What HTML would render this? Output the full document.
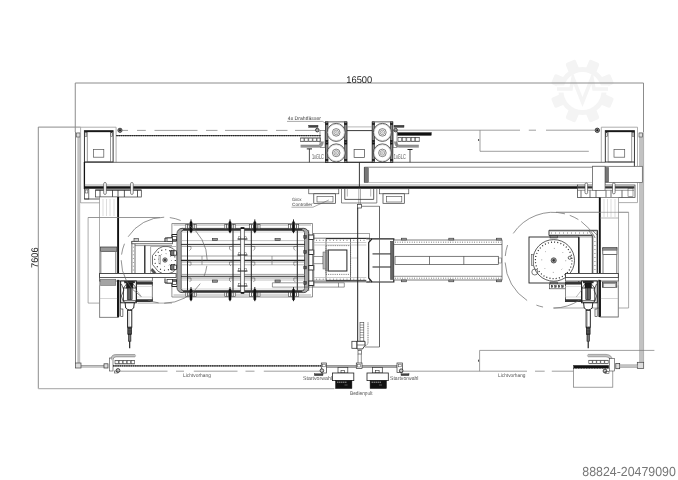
<!DOCTYPE html>
<html><head><meta charset="utf-8"><title>Layout 16500 x 7606</title>
<style>
html,body{margin:0;padding:0;background:#fff;}
body{width:678px;height:480px;overflow:hidden;font-family:"Liberation Sans",sans-serif;}
svg{display:block;transform:translateZ(0);will-change:transform;}
svg text{font-family:"Liberation Sans",sans-serif;text-rendering:geometricPrecision;}
</style></head><body>
<svg width="678" height="480" viewBox="0 0 678 480">
<rect x="0" y="0" width="678" height="480" fill="#fff"/>
<g><rect x="577.0" y="59" width="11" height="12" rx="2" fill="#f4f4f4" transform="rotate(22.5 582.5 91)"/><rect x="577.0" y="59" width="11" height="12" rx="2" fill="#f4f4f4" transform="rotate(67.5 582.5 91)"/><rect x="577.0" y="59" width="11" height="12" rx="2" fill="#f4f4f4" transform="rotate(112.5 582.5 91)"/><rect x="577.0" y="59" width="11" height="12" rx="2" fill="#f4f4f4" transform="rotate(157.5 582.5 91)"/><rect x="577.0" y="59" width="11" height="12" rx="2" fill="#f4f4f4" transform="rotate(202.5 582.5 91)"/><rect x="577.0" y="59" width="11" height="12" rx="2" fill="#f4f4f4" transform="rotate(247.5 582.5 91)"/><rect x="577.0" y="59" width="11" height="12" rx="2" fill="#f4f4f4" transform="rotate(292.5 582.5 91)"/><rect x="577.0" y="59" width="11" height="12" rx="2" fill="#f4f4f4" transform="rotate(337.5 582.5 91)"/><circle cx="582.5" cy="91" r="21.5" fill="none" stroke="#f4f4f4" stroke-width="5"/><path d="M556.5,89 L566.5,89 M598.5,89 L608.5,89" fill="none" stroke="#fff" stroke-width="7"/><path d="M557.0,89 L571.0,89 L573.0,78 L582.5,102 L592.0,78 L594.0,89 L608.0,89" fill="none" stroke="#f4f4f4" stroke-width="3.6" stroke-linejoin="miter"/></g>
<line x1="75.25" y1="83" x2="643.5" y2="83" stroke="#8c8c8c" stroke-width="1" />
<line x1="75.25" y1="83" x2="75.25" y2="132" stroke="#8c8c8c" stroke-width="1" />
<line x1="643.5" y1="83" x2="643.5" y2="132" stroke="#8c8c8c" stroke-width="1" />
<line x1="38.3" y1="127" x2="38.3" y2="388.7" stroke="#8c8c8c" stroke-width="1" />
<line x1="38.3" y1="127.1" x2="80.6" y2="127.1" stroke="#8c8c8c" stroke-width="1" />
<line x1="38.3" y1="388.7" x2="334.4" y2="388.7" stroke="#b5b5b5" stroke-width="1.2" />
<text x="346.3" y="82.9" font-size="9.7" fill="#222" textLength="25.9" lengthAdjust="spacingAndGlyphs">16500</text>
<text transform="translate(38.1,267.9) rotate(-90)" font-size="9.6" fill="#222" textLength="20.4" lengthAdjust="spacingAndGlyphs">7606</text>
<text x="582.3" y="475.9" font-size="13.2" fill="#777" textLength="93.6" lengthAdjust="spacingAndGlyphs">88824-20479090</text>
<line x1="75.5" y1="132" x2="75.5" y2="363" stroke="#777" stroke-width="0.9" />
<rect x="77.3" y="132.5" width="2.90" height="230.50" stroke="none" stroke-width="0" fill="#c2c2c2" />
<rect x="76.6" y="133" width="3.40" height="4.00" stroke="#444" stroke-width="0.6" fill="#ddd" />
<rect x="75.6" y="363" width="5.40" height="5.00" stroke="#444" stroke-width="0.7" fill="#ddd" />
<rect x="639" y="132.5" width="4.70" height="230.00" stroke="none" stroke-width="0" fill="#c2c2c2" />
<line x1="643.6" y1="132" x2="643.6" y2="362.5" stroke="#999" stroke-width="0.6" />
<rect x="639" y="133" width="3.60" height="4.00" stroke="#444" stroke-width="0.6" fill="#ddd" />
<rect x="637.3" y="362.3" width="6.40" height="6.20" stroke="#444" stroke-width="0.7" fill="#ddd" />
<path d="M80.6,203 L80.6,127.2 L116.1,127.2 L116.1,162.3" stroke="#999" stroke-width="0.8" fill="none" />
<rect x="84.4" y="130.6" width="28.70" height="31.40" stroke="#222" stroke-width="0.9" fill="none" />
<rect x="87.2" y="131.6" width="23.30" height="30.40" stroke="#555" stroke-width="0.6" fill="none" />
<line x1="84.4" y1="131.6" x2="113.1" y2="131.6" stroke="#111" stroke-width="1.1" />
<rect x="85.0" y="132.5" width="1.80" height="4.00" stroke="#333" stroke-width="0.5" fill="none" />
<rect x="110.89999999999999" y="132.5" width="1.70" height="4.00" stroke="#333" stroke-width="0.5" fill="none" />
<rect x="93.4" y="149.4" width="10.40" height="7.80" stroke="#555" stroke-width="0.7" fill="none" />
<path d="M601.3,162.3 L601.3,127.2 L637.5,127.2 L637.5,166" stroke="#999" stroke-width="0.8" fill="none" />
<rect x="605.3" y="130.6" width="29.10" height="31.40" stroke="#222" stroke-width="0.9" fill="none" />
<rect x="608.0999999999999" y="131.6" width="23.70" height="30.40" stroke="#555" stroke-width="0.6" fill="none" />
<line x1="605.3" y1="131.6" x2="634.4" y2="131.6" stroke="#111" stroke-width="1.1" />
<rect x="605.9" y="132.5" width="1.80" height="4.00" stroke="#333" stroke-width="0.5" fill="none" />
<rect x="632.1999999999999" y="132.5" width="1.70" height="4.00" stroke="#333" stroke-width="0.5" fill="none" />
<rect x="614" y="149.4" width="10.70" height="7.80" stroke="#555" stroke-width="0.7" fill="none" />
<circle cx="120" cy="130.3" r="2.1" stroke="#222" stroke-width="0.8" fill="#999" />
<circle cx="120" cy="130.3" r="0.8" stroke="#111" stroke-width="0.5" fill="#111" />
<circle cx="597.3" cy="130.3" r="2.2" stroke="#222" stroke-width="0.8" fill="#999" />
<circle cx="597.3" cy="130.3" r="0.8" stroke="#111" stroke-width="0.5" fill="#111" />
<line x1="122.2" y1="130.4" x2="128" y2="130.4" stroke="#777" stroke-width="0.7" />
<line x1="137" y1="130.4" x2="145.8" y2="130.4" stroke="#777" stroke-width="0.7" />
<line x1="154.5" y1="130.4" x2="197.5" y2="130.4" stroke="#777" stroke-width="0.7" />
<line x1="206" y1="130.4" x2="217.5" y2="130.4" stroke="#777" stroke-width="0.7" />
<line x1="225" y1="130.4" x2="267.5" y2="130.4" stroke="#777" stroke-width="0.7" />
<line x1="276" y1="130.4" x2="287.5" y2="130.4" stroke="#777" stroke-width="0.7" />
<line x1="295" y1="130.4" x2="315.5" y2="130.4" stroke="#777" stroke-width="0.7" />
<line x1="116.3" y1="135.6" x2="321" y2="135.6" stroke="#555" stroke-width="0.9" />
<line x1="116.3" y1="135.6" x2="321" y2="135.6" stroke="#222" stroke-width="1.1" stroke-dasharray="1.5 0.7"/>
<line x1="84.4" y1="162.3" x2="605.3" y2="162.3" stroke="#444" stroke-width="0.8" />
<line x1="84.4" y1="162" x2="84.4" y2="189" stroke="#111" stroke-width="1.3" />
<line x1="84.4" y1="185" x2="578" y2="185" stroke="#666" stroke-width="0.6" />
<line x1="84.4" y1="187.5" x2="578" y2="187.5" stroke="#111" stroke-width="2.4" />
<rect x="325.6" y="121.9" width="21.30" height="40.40" stroke="#222" stroke-width="0.7" fill="#fff" />
<rect x="325.6" y="121.9" width="2.40" height="40.40" stroke="#222" stroke-width="0.6" fill="#888" />
<rect x="325.6" y="123.3" width="2.40" height="1.40" stroke="#111" stroke-width="0.3" fill="#111" />
<rect x="325.6" y="140.3" width="2.40" height="1.40" stroke="#111" stroke-width="0.3" fill="#111" />
<rect x="325.6" y="142.8" width="2.40" height="1.40" stroke="#111" stroke-width="0.3" fill="#111" />
<rect x="325.6" y="159.3" width="2.40" height="1.40" stroke="#111" stroke-width="0.3" fill="#111" />
<rect x="344.5" y="121.9" width="2.40" height="40.40" stroke="#222" stroke-width="0.6" fill="#888" />
<rect x="344.5" y="123.3" width="2.40" height="1.40" stroke="#111" stroke-width="0.3" fill="#111" />
<rect x="344.5" y="140.3" width="2.40" height="1.40" stroke="#111" stroke-width="0.3" fill="#111" />
<rect x="344.5" y="142.8" width="2.40" height="1.40" stroke="#111" stroke-width="0.3" fill="#111" />
<rect x="344.5" y="159.3" width="2.40" height="1.40" stroke="#111" stroke-width="0.3" fill="#111" />
<circle cx="336.2" cy="132.4" r="9.0" stroke="#333" stroke-width="0.8" fill="#fff" />
<circle cx="336.2" cy="132.4" r="8.2" stroke="#999" stroke-width="0.4" fill="none" />
<circle cx="336.2" cy="132.4" r="3.8" stroke="#333" stroke-width="0.6" fill="none" />
<circle cx="336.2" cy="132.4" r="2.3" stroke="#444" stroke-width="0.5" fill="none" />
<circle cx="336.2" cy="132.4" r="0.9" stroke="#555" stroke-width="0.4" fill="none" />
<circle cx="336.2" cy="152.9" r="9.0" stroke="#333" stroke-width="0.8" fill="#fff" />
<circle cx="336.2" cy="152.9" r="8.2" stroke="#999" stroke-width="0.4" fill="none" />
<circle cx="336.2" cy="152.9" r="3.8" stroke="#333" stroke-width="0.6" fill="none" />
<circle cx="336.2" cy="152.9" r="2.3" stroke="#444" stroke-width="0.5" fill="none" />
<circle cx="336.2" cy="152.9" r="0.9" stroke="#555" stroke-width="0.4" fill="none" />
<rect x="372.2" y="121.9" width="20.60" height="40.40" stroke="#222" stroke-width="0.7" fill="#fff" />
<rect x="372.2" y="121.9" width="2.40" height="40.40" stroke="#222" stroke-width="0.6" fill="#888" />
<rect x="372.2" y="123.3" width="2.40" height="1.40" stroke="#111" stroke-width="0.3" fill="#111" />
<rect x="372.2" y="140.3" width="2.40" height="1.40" stroke="#111" stroke-width="0.3" fill="#111" />
<rect x="372.2" y="142.8" width="2.40" height="1.40" stroke="#111" stroke-width="0.3" fill="#111" />
<rect x="372.2" y="159.3" width="2.40" height="1.40" stroke="#111" stroke-width="0.3" fill="#111" />
<rect x="390.40000000000003" y="121.9" width="2.40" height="40.40" stroke="#222" stroke-width="0.6" fill="#888" />
<rect x="390.40000000000003" y="123.3" width="2.40" height="1.40" stroke="#111" stroke-width="0.3" fill="#111" />
<rect x="390.40000000000003" y="140.3" width="2.40" height="1.40" stroke="#111" stroke-width="0.3" fill="#111" />
<rect x="390.40000000000003" y="142.8" width="2.40" height="1.40" stroke="#111" stroke-width="0.3" fill="#111" />
<rect x="390.40000000000003" y="159.3" width="2.40" height="1.40" stroke="#111" stroke-width="0.3" fill="#111" />
<circle cx="382.4" cy="132.4" r="9.0" stroke="#333" stroke-width="0.8" fill="#fff" />
<circle cx="382.4" cy="132.4" r="8.2" stroke="#999" stroke-width="0.4" fill="none" />
<circle cx="382.4" cy="132.4" r="3.8" stroke="#333" stroke-width="0.6" fill="none" />
<circle cx="382.4" cy="132.4" r="2.3" stroke="#444" stroke-width="0.5" fill="none" />
<circle cx="382.4" cy="132.4" r="0.9" stroke="#555" stroke-width="0.4" fill="none" />
<circle cx="382.4" cy="152.9" r="9.0" stroke="#333" stroke-width="0.8" fill="#fff" />
<circle cx="382.4" cy="152.9" r="8.2" stroke="#999" stroke-width="0.4" fill="none" />
<circle cx="382.4" cy="152.9" r="3.8" stroke="#333" stroke-width="0.6" fill="none" />
<circle cx="382.4" cy="152.9" r="2.3" stroke="#444" stroke-width="0.5" fill="none" />
<circle cx="382.4" cy="152.9" r="0.9" stroke="#555" stroke-width="0.4" fill="none" />
<line x1="346.9" y1="126.9" x2="372.2" y2="126.9" stroke="#888" stroke-width="0.6" />
<line x1="346.9" y1="130.6" x2="372.2" y2="130.6" stroke="#222" stroke-width="0.9" />
<rect x="354.1" y="149.4" width="10.50" height="8.10" stroke="#444" stroke-width="0.7" fill="none" />
<line x1="346.9" y1="162.3" x2="372.2" y2="162.3" stroke="#222" stroke-width="0.9" />
<text x="287.8" y="120.4" font-size="5.2" fill="#444" textLength="33.2" lengthAdjust="spacingAndGlyphs">4x Drahtfässer</text>
<path d="M287,121.4 L322.5,121.4 L325.6,123.2" stroke="#555" stroke-width="0.5" fill="none" />
<rect x="308.8" y="125.3" width="9.20" height="2.00" stroke="#222" stroke-width="0.4" fill="#444" />
<circle cx="317.3" cy="130.1" r="1.8" stroke="#222" stroke-width="0.8" fill="#aaa" />
<rect x="320" y="130.6" width="5.00" height="16.90" stroke="#555" stroke-width="0.6" fill="none" />
<rect x="300.6" y="138" width="3.40" height="3.30" stroke="#444" stroke-width="0.6" fill="none" />
<rect x="304.70000000000005" y="138" width="3.40" height="3.30" stroke="#444" stroke-width="0.6" fill="none" />
<rect x="308.8" y="138" width="3.40" height="3.30" stroke="#444" stroke-width="0.6" fill="none" />
<rect x="312.90000000000003" y="138" width="3.40" height="3.30" stroke="#444" stroke-width="0.6" fill="none" />
<rect x="317.0" y="138" width="3.40" height="3.30" stroke="#444" stroke-width="0.6" fill="none" />
<line x1="300.6" y1="138" x2="321" y2="138" stroke="#444" stroke-width="0.5" />
<line x1="300.6" y1="141.3" x2="321" y2="141.3" stroke="#444" stroke-width="0.5" />
<path d="M300.6,146.1 L318.5,146.1 Q322,146 322.3,141.5" stroke="#999" stroke-width="2.3" fill="none" />
<path d="M300.6,145 L318.5,145 Q321,145 321.2,141.5 M300.6,147.3 L319,147.3 Q323.3,147 323.4,141.5" stroke="#555" stroke-width="0.4" fill="none" />
<line x1="306.8" y1="148.9" x2="312" y2="148.9" stroke="#222" stroke-width="1.0" />
<line x1="309.4" y1="148.9" x2="309.4" y2="162.3" stroke="#222" stroke-width="0.8" />
<text x="311.9" y="158.7" font-size="7.2" fill="#555" textLength="12" lengthAdjust="spacingAndGlyphs">1xGLC</text>
<rect x="394" y="125.3" width="10.00" height="2.00" stroke="#222" stroke-width="0.4" fill="#444" />
<circle cx="395.6" cy="130.1" r="1.8" stroke="#222" stroke-width="0.8" fill="#aaa" />
<rect x="397.5" y="132.6" width="33.80" height="2.80" stroke="#111" stroke-width="0.4" fill="#111" />
<rect x="398.0" y="137.6" width="3.60" height="3.70" stroke="#444" stroke-width="0.6" fill="none" />
<rect x="402.4" y="137.6" width="3.60" height="3.70" stroke="#444" stroke-width="0.6" fill="none" />
<rect x="406.8" y="137.6" width="3.60" height="3.70" stroke="#444" stroke-width="0.6" fill="none" />
<rect x="411.2" y="137.6" width="3.60" height="3.70" stroke="#444" stroke-width="0.6" fill="none" />
<rect x="415.6" y="137.6" width="3.60" height="3.70" stroke="#444" stroke-width="0.6" fill="none" />
<line x1="398" y1="137.6" x2="420" y2="137.6" stroke="#444" stroke-width="0.5" />
<line x1="398" y1="141.3" x2="420" y2="141.3" stroke="#444" stroke-width="0.5" />
<path d="M418.8,146.1 L399,146.1 Q395.8,146 395.6,141.5" stroke="#999" stroke-width="2.3" fill="none" />
<path d="M418.8,145 L399,145 Q396.8,145 396.6,141.5 M418.8,147.3 L399,147.3 Q394.6,147 394.5,141.5" stroke="#555" stroke-width="0.4" fill="none" />
<rect x="393" y="130.6" width="4.00" height="16.90" stroke="#555" stroke-width="0.6" fill="none" />
<line x1="407.5" y1="149.5" x2="412.5" y2="149.5" stroke="#222" stroke-width="1.0" />
<line x1="410" y1="149.5" x2="410" y2="162.3" stroke="#222" stroke-width="0.8" />
<text x="393.8" y="158.7" font-size="7.2" fill="#555" textLength="12" lengthAdjust="spacingAndGlyphs">1xGLC</text>
<line x1="397.4" y1="130.2" x2="520" y2="130.2" stroke="#777" stroke-width="0.7" />
<line x1="528.8" y1="130.2" x2="536" y2="130.2" stroke="#777" stroke-width="0.7" />
<line x1="546" y1="130.2" x2="595" y2="130.2" stroke="#777" stroke-width="0.7" />
<path d="M480,130.2 L480,151.3 L588.8,151.3" stroke="#777" stroke-width="0.7" fill="none" />
<line x1="478.6" y1="139" x2="478.6" y2="141" stroke="#222" stroke-width="0.8" />
<line x1="364.4" y1="167.2" x2="592.5" y2="167.2" stroke="#555" stroke-width="0.7" />
<line x1="364.4" y1="167.2" x2="364.4" y2="182.5" stroke="#333" stroke-width="0.8" />
<line x1="364.4" y1="182.5" x2="592.5" y2="182.5" stroke="#aaa" stroke-width="0.7" />
<rect x="364.6" y="167.8" width="3.80" height="14.50" stroke="#333" stroke-width="0.4" fill="#777" />
<line x1="359.4" y1="162.3" x2="359.4" y2="188" stroke="#222" stroke-width="0.9" />
<line x1="358.8" y1="188.8" x2="358.8" y2="204.4" stroke="#777" stroke-width="0.6" />
<line x1="360.5" y1="188.8" x2="360.5" y2="204.4" stroke="#777" stroke-width="0.6" />
<rect x="308.8" y="188.8" width="30.00" height="5.00" stroke="#333" stroke-width="0.6" fill="#fff" />
<rect x="313.8" y="193.8" width="21.70" height="9.50" stroke="#333" stroke-width="0.7" fill="#fff" />
<rect x="317" y="196.3" width="16.00" height="5.70" stroke="#444" stroke-width="0.6" fill="none" />
<rect x="379.5" y="188.8" width="29.30" height="5.00" stroke="#333" stroke-width="0.6" fill="#fff" />
<rect x="383" y="193.8" width="21.30" height="9.50" stroke="#333" stroke-width="0.7" fill="#fff" />
<rect x="386.3" y="196.3" width="15.50" height="5.70" stroke="#444" stroke-width="0.6" fill="none" />
<path d="M341.5,188.8 L341.5,203 L376.8,203 L376.8,188.8" stroke="#555" stroke-width="0.7" fill="none" />
<path d="M344.8,188.8 L344.8,199.4 L373.7,199.4 L373.7,188.8" stroke="#333" stroke-width="0.8" fill="none" />
<path d="M347.3,188.8 L347.3,196.5 M370.7,188.8 L370.7,196.5" stroke="#666" stroke-width="0.5" fill="none" />
<rect x="357.5" y="204.4" width="4.00" height="3.60" stroke="#333" stroke-width="0.7" fill="#fff" />
<path d="M361.5,206.3 L379.5,206.3 L379.5,347 L365,347" stroke="#555" stroke-width="0.7" fill="none" />
<text x="292" y="201.2" font-size="4.6" fill="#444" textLength="9.5" lengthAdjust="spacingAndGlyphs">Girox</text>
<text x="292" y="206.3" font-size="4.6" fill="#444" textLength="20.5" lengthAdjust="spacingAndGlyphs">Controller</text>
<path d="M291.5,207.2 L313,207.2 L328.8,200" stroke="#555" stroke-width="0.5" fill="none" />
<path d="M160,217.5 L88.1,217.5 L88.1,303.1 L99.6,303.1 M137.5,303.1 L172,303.1" stroke="#888" stroke-width="0.7" fill="none" />
<path d="M556,212.3 L628.6,212.3 L628.6,308 L553,308" stroke="#888" stroke-width="0.7" fill="none" />
<line x1="80.6" y1="202.8" x2="99.6" y2="202.8" stroke="#999" stroke-width="0.8" />
<path d="M618.8,202.6 L637.5,202.6 L637.5,182.5" stroke="#999" stroke-width="0.8" fill="none" />
<rect x="84.4" y="189" width="4.40" height="10.00" stroke="#333" stroke-width="0.7" fill="#fff" />
<rect x="85.3" y="190" width="2.50" height="3.00" stroke="#444" stroke-width="0.5" fill="none" />
<line x1="84.4" y1="199" x2="100" y2="199" stroke="#333" stroke-width="0.8" />
<rect x="95.6" y="190" width="45.70" height="7.00" stroke="#333" stroke-width="0.7" fill="#fff" />
<line x1="95.6" y1="190.2" x2="141.3" y2="190.2" stroke="#555" stroke-width="1.2" />
<line x1="100" y1="190" x2="100" y2="197" stroke="#333" stroke-width="0.8" />
<line x1="112.5" y1="190" x2="112.5" y2="197" stroke="#333" stroke-width="0.8" />
<line x1="118" y1="190" x2="118" y2="197" stroke="#333" stroke-width="0.8" />
<line x1="124.4" y1="190" x2="124.4" y2="197" stroke="#333" stroke-width="0.8" />
<line x1="137.5" y1="190" x2="137.5" y2="197" stroke="#333" stroke-width="0.8" />
<rect x="103.7" y="182.5" width="2.60" height="11.90" stroke="#333" stroke-width="0.6" fill="#fff" rx="1.2"/>
<rect x="130.6" y="182.5" width="2.60" height="11.90" stroke="#333" stroke-width="0.6" fill="#fff" rx="1.2"/>
<rect x="592.5" y="166.3" width="49.80" height="16.20" stroke="#555" stroke-width="0.7" fill="#fff" />
<rect x="592.5" y="166.3" width="12.50" height="24.30" stroke="#555" stroke-width="0.7" fill="#fff" />
<rect x="605.2" y="167.5" width="3.40" height="14.50" stroke="#333" stroke-width="0.4" fill="#777" />
<rect x="577.5" y="185" width="57.50" height="12.50" stroke="#333" stroke-width="0.7" fill="#fff" />
<line x1="577.5" y1="187.3" x2="634.4" y2="187.3" stroke="#333" stroke-width="2.2" />
<line x1="577.5" y1="190.3" x2="634" y2="190.3" stroke="#555" stroke-width="0.6" />
<rect x="592.5" y="166.3" width="12.50" height="24.30" stroke="#666" stroke-width="0.7" fill="#fff" />
<line x1="581" y1="190.3" x2="581" y2="197.5" stroke="#333" stroke-width="0.7" />
<line x1="590" y1="190.3" x2="590" y2="197.5" stroke="#333" stroke-width="0.7" />
<line x1="596" y1="190.3" x2="596" y2="197.5" stroke="#333" stroke-width="0.7" />
<line x1="606" y1="190.3" x2="606" y2="197.5" stroke="#333" stroke-width="0.7" />
<line x1="611" y1="190.3" x2="611" y2="197.5" stroke="#333" stroke-width="0.7" />
<line x1="622" y1="190.3" x2="622" y2="197.5" stroke="#333" stroke-width="0.7" />
<rect x="628" y="188.5" width="5.00" height="8.00" stroke="#444" stroke-width="0.5" fill="none" />
<line x1="634.4" y1="162" x2="634.4" y2="166.3" stroke="#222" stroke-width="0.9" />
<rect x="585.0" y="183" width="2.60" height="10.80" stroke="#333" stroke-width="0.6" fill="#fff" rx="1.2"/>
<rect x="612.5" y="183" width="2.60" height="10.80" stroke="#333" stroke-width="0.6" fill="#fff" rx="1.2"/>
<rect x="99.6" y="197" width="18.50" height="120.30" stroke="#777" stroke-width="0.6" fill="#fff" />
<line x1="118.1" y1="197" x2="118.1" y2="317.3" stroke="#111" stroke-width="1.9" />
<line x1="99.6" y1="217.5" x2="118" y2="217.5" stroke="#888" stroke-width="0.6" />
<line x1="103" y1="199" x2="103" y2="216" stroke="#bbb" stroke-width="0.5" />
<line x1="106.5" y1="199" x2="106.5" y2="216" stroke="#bbb" stroke-width="0.5" />
<line x1="110" y1="199" x2="110" y2="216" stroke="#bbb" stroke-width="0.5" />
<line x1="114" y1="199" x2="114" y2="216" stroke="#bbb" stroke-width="0.5" />
<rect x="100.6" y="247" width="16.40" height="4.30" stroke="#333" stroke-width="0.7" fill="#999" />
<line x1="100.8" y1="251.3" x2="100.8" y2="273.5" stroke="#777" stroke-width="1.0" />
<line x1="115.8" y1="251.3" x2="115.8" y2="273.5" stroke="#777" stroke-width="1.0" />
<rect x="599.8" y="197.5" width="18.60" height="119.50" stroke="#777" stroke-width="0.6" fill="#fff" />
<line x1="599.8" y1="197.5" x2="599.8" y2="317" stroke="#111" stroke-width="1.9" />
<line x1="600" y1="218" x2="618.4" y2="218" stroke="#888" stroke-width="0.6" />
<line x1="604" y1="199" x2="604" y2="217" stroke="#bbb" stroke-width="0.5" />
<line x1="607.5" y1="199" x2="607.5" y2="217" stroke="#bbb" stroke-width="0.5" />
<line x1="611" y1="199" x2="611" y2="217" stroke="#bbb" stroke-width="0.5" />
<line x1="615" y1="199" x2="615" y2="217" stroke="#bbb" stroke-width="0.5" />
<rect x="602.8" y="247.5" width="14.20" height="6.90" stroke="#333" stroke-width="0.7" fill="#fff" />
<rect x="602.8" y="248.3" width="14.20" height="2.00" stroke="#333" stroke-width="0.3" fill="#888" />
<line x1="603" y1="254.4" x2="603" y2="273.5" stroke="#777" stroke-width="1.0" />
<line x1="616.8" y1="254.4" x2="616.8" y2="273.5" stroke="#777" stroke-width="1.0" />
<path d="M171.9,236 L171.9,223.5 L312.5,223.5 L312.5,297 L171.9,297 L171.9,285" stroke="#666" stroke-width="0.7" fill="none" />
<path d="M173.5,225 L311,225 M173.5,295 L311,295" stroke="#777" stroke-width="0.6" fill="none" />
<path d="M183,229.5 Q179.1,229.5 179.1,233.5 L179.1,287.5 Q179.1,291.4 183,291.4" fill="none" stroke="#aaa" stroke-width="3.4"/>
<path d="M302.5,229.5 Q306.6,229.5 306.6,233.5 L306.6,287.5 Q306.6,291.4 302.5,291.4" fill="none" stroke="#aaa" stroke-width="3.4"/>
<rect x="177" y="228.4" width="131.7" height="64.2" rx="5" fill="none" stroke="#333" stroke-width="0.8"/>
<rect x="181.2" y="230.4" width="123.3" height="60.2" rx="2" fill="none" stroke="#333" stroke-width="0.8"/>
<line x1="183" y1="229.4" x2="302.5" y2="229.4" stroke="#333" stroke-width="1.6" />
<line x1="183" y1="291.5" x2="302.5" y2="291.5" stroke="#333" stroke-width="1.6" />
<line x1="181" y1="232" x2="305" y2="232" stroke="#aaa" stroke-width="0.5" />
<line x1="181" y1="289" x2="305" y2="289" stroke="#aaa" stroke-width="0.5" />
<line x1="181" y1="240.6" x2="305" y2="240.6" stroke="#999" stroke-width="0.6" />
<line x1="181" y1="244.4" x2="305" y2="244.4" stroke="#333" stroke-width="1.0" />
<line x1="181" y1="246.3" x2="305" y2="246.3" stroke="#777" stroke-width="0.7" />
<line x1="181" y1="256" x2="305" y2="256" stroke="#777" stroke-width="0.7" />
<line x1="181" y1="260.3" x2="305" y2="260.3" stroke="#2a2a2a" stroke-width="1.15" />
<line x1="181" y1="262" x2="305" y2="262" stroke="#777" stroke-width="0.7" />
<line x1="181" y1="264.8" x2="305" y2="264.8" stroke="#888" stroke-width="0.6" />
<line x1="181" y1="274.4" x2="305" y2="274.4" stroke="#777" stroke-width="0.7" />
<line x1="181" y1="276.3" x2="305" y2="276.3" stroke="#333" stroke-width="1.0" />
<line x1="181" y1="278" x2="305" y2="278" stroke="#777" stroke-width="0.7" />
<line x1="181" y1="280" x2="305" y2="280" stroke="#999" stroke-width="0.6" />
<line x1="187.5" y1="230.4" x2="187.5" y2="290.6" stroke="#222" stroke-width="1.0" />
<path d="M188.0,246.5 l3,0 l0,2.5 l-1.5,1.5" stroke="#444" stroke-width="0.5" fill="none" />
<path d="M188.0,262 l3,0 l0,2.5 l-1.5,1.5" stroke="#444" stroke-width="0.5" fill="none" />
<path d="M188.0,278 l3,0 l0,2.5 l-1.5,1.5" stroke="#444" stroke-width="0.5" fill="none" />
<line x1="233" y1="230.4" x2="233" y2="290.6" stroke="#222" stroke-width="1.0" />
<path d="M232.5,246.5 l-3,0 l0,2.5 l1.5,1.5" stroke="#444" stroke-width="0.5" fill="none" />
<path d="M232.5,262 l-3,0 l0,2.5 l1.5,1.5" stroke="#444" stroke-width="0.5" fill="none" />
<path d="M232.5,278 l-3,0 l0,2.5 l1.5,1.5" stroke="#444" stroke-width="0.5" fill="none" />
<line x1="251.3" y1="230.4" x2="251.3" y2="290.6" stroke="#222" stroke-width="1.0" />
<path d="M251.8,246.5 l3,0 l0,2.5 l-1.5,1.5" stroke="#444" stroke-width="0.5" fill="none" />
<path d="M251.8,262 l3,0 l0,2.5 l-1.5,1.5" stroke="#444" stroke-width="0.5" fill="none" />
<path d="M251.8,278 l3,0 l0,2.5 l-1.5,1.5" stroke="#444" stroke-width="0.5" fill="none" />
<line x1="297.3" y1="230.4" x2="297.3" y2="290.6" stroke="#222" stroke-width="1.0" />
<path d="M296.8,246.5 l-3,0 l0,2.5 l1.5,1.5" stroke="#444" stroke-width="0.5" fill="none" />
<path d="M296.8,262 l-3,0 l0,2.5 l1.5,1.5" stroke="#444" stroke-width="0.5" fill="none" />
<path d="M296.8,278 l-3,0 l0,2.5 l1.5,1.5" stroke="#444" stroke-width="0.5" fill="none" />
<rect x="212.3" y="238.5" width="5.20" height="2.10" stroke="#333" stroke-width="0.6" fill="#999" />
<rect x="212.3" y="280" width="5.20" height="2.20" stroke="#333" stroke-width="0.6" fill="#999" />
<rect x="275" y="238.5" width="5.20" height="2.10" stroke="#333" stroke-width="0.6" fill="#999" />
<rect x="275" y="280" width="5.20" height="2.20" stroke="#333" stroke-width="0.6" fill="#999" />
<line x1="202" y1="256" x2="202" y2="264.8" stroke="#666" stroke-width="0.6" />
<line x1="272" y1="256" x2="272" y2="264.8" stroke="#666" stroke-width="0.6" />
<rect x="240.6" y="228.2" width="3.80" height="64.50" stroke="#333" stroke-width="0.7" fill="#fff" rx="1.5"/>
<rect x="240.9" y="227.3" width="3.20" height="1.50" stroke="#111" stroke-width="0.4" fill="#111" />
<rect x="240.9" y="292.2" width="3.20" height="1.40" stroke="#111" stroke-width="0.4" fill="#111" />
<line x1="237.5" y1="239" x2="247.5" y2="239" stroke="#222" stroke-width="1.0" />
<rect x="238.5" y="236.8" width="2.10" height="2.70" stroke="#444" stroke-width="0.4" fill="none" />
<rect x="244.4" y="236.8" width="2.10" height="2.70" stroke="#444" stroke-width="0.4" fill="none" />
<line x1="237.5" y1="255" x2="247.5" y2="255" stroke="#222" stroke-width="1.0" />
<rect x="238.5" y="252.8" width="2.10" height="2.70" stroke="#444" stroke-width="0.4" fill="none" />
<rect x="244.4" y="252.8" width="2.10" height="2.70" stroke="#444" stroke-width="0.4" fill="none" />
<line x1="237.5" y1="271" x2="247.5" y2="271" stroke="#222" stroke-width="1.0" />
<rect x="238.5" y="268.8" width="2.10" height="2.70" stroke="#444" stroke-width="0.4" fill="none" />
<rect x="244.4" y="268.8" width="2.10" height="2.70" stroke="#444" stroke-width="0.4" fill="none" />
<line x1="237.5" y1="286" x2="247.5" y2="286" stroke="#222" stroke-width="1.0" />
<rect x="238.5" y="283.8" width="2.10" height="2.70" stroke="#444" stroke-width="0.4" fill="none" />
<rect x="244.4" y="283.8" width="2.10" height="2.70" stroke="#444" stroke-width="0.4" fill="none" />
<rect x="185.8" y="224.3" width="2.00" height="4.40" stroke="#333" stroke-width="0.6" fill="#fff" />
<rect x="187.8" y="224.8" width="2.00" height="3.40" stroke="#333" stroke-width="0.6" fill="#fff" />
<rect x="192.2" y="224.8" width="2.00" height="3.40" stroke="#333" stroke-width="0.6" fill="#fff" />
<rect x="194.2" y="224.3" width="2.00" height="4.40" stroke="#333" stroke-width="0.6" fill="#fff" />
<rect x="189.9" y="221.4" width="2.20" height="10.80" stroke="#111" stroke-width="0.4" fill="#111" rx="1"/>
<line x1="191" y1="219.4" x2="191" y2="233.2" stroke="#111" stroke-width="0.9" />
<rect x="185.8" y="292.3" width="2.00" height="4.40" stroke="#333" stroke-width="0.6" fill="#fff" />
<rect x="187.8" y="292.8" width="2.00" height="3.40" stroke="#333" stroke-width="0.6" fill="#fff" />
<rect x="192.2" y="292.8" width="2.00" height="3.40" stroke="#333" stroke-width="0.6" fill="#fff" />
<rect x="194.2" y="292.3" width="2.00" height="4.40" stroke="#333" stroke-width="0.6" fill="#fff" />
<rect x="189.9" y="289" width="2.20" height="11.20" stroke="#111" stroke-width="0.4" fill="#111" rx="1"/>
<line x1="191" y1="287" x2="191" y2="301.2" stroke="#111" stroke-width="0.9" />
<rect x="224.8" y="224.3" width="2.00" height="4.40" stroke="#333" stroke-width="0.6" fill="#fff" />
<rect x="226.8" y="224.8" width="2.00" height="3.40" stroke="#333" stroke-width="0.6" fill="#fff" />
<rect x="231.2" y="224.8" width="2.00" height="3.40" stroke="#333" stroke-width="0.6" fill="#fff" />
<rect x="233.2" y="224.3" width="2.00" height="4.40" stroke="#333" stroke-width="0.6" fill="#fff" />
<rect x="228.9" y="221.4" width="2.20" height="10.80" stroke="#111" stroke-width="0.4" fill="#111" rx="1"/>
<line x1="230" y1="219.4" x2="230" y2="233.2" stroke="#111" stroke-width="0.9" />
<rect x="224.8" y="292.3" width="2.00" height="4.40" stroke="#333" stroke-width="0.6" fill="#fff" />
<rect x="226.8" y="292.8" width="2.00" height="3.40" stroke="#333" stroke-width="0.6" fill="#fff" />
<rect x="231.2" y="292.8" width="2.00" height="3.40" stroke="#333" stroke-width="0.6" fill="#fff" />
<rect x="233.2" y="292.3" width="2.00" height="4.40" stroke="#333" stroke-width="0.6" fill="#fff" />
<rect x="228.9" y="289" width="2.20" height="11.20" stroke="#111" stroke-width="0.4" fill="#111" rx="1"/>
<line x1="230" y1="287" x2="230" y2="301.2" stroke="#111" stroke-width="0.9" />
<rect x="249.60000000000002" y="224.3" width="2.00" height="4.40" stroke="#333" stroke-width="0.6" fill="#fff" />
<rect x="251.60000000000002" y="224.8" width="2.00" height="3.40" stroke="#333" stroke-width="0.6" fill="#fff" />
<rect x="256.0" y="224.8" width="2.00" height="3.40" stroke="#333" stroke-width="0.6" fill="#fff" />
<rect x="258.0" y="224.3" width="2.00" height="4.40" stroke="#333" stroke-width="0.6" fill="#fff" />
<rect x="253.70000000000002" y="221.4" width="2.20" height="10.80" stroke="#111" stroke-width="0.4" fill="#111" rx="1"/>
<line x1="254.8" y1="219.4" x2="254.8" y2="233.2" stroke="#111" stroke-width="0.9" />
<rect x="249.60000000000002" y="292.3" width="2.00" height="4.40" stroke="#333" stroke-width="0.6" fill="#fff" />
<rect x="251.60000000000002" y="292.8" width="2.00" height="3.40" stroke="#333" stroke-width="0.6" fill="#fff" />
<rect x="256.0" y="292.8" width="2.00" height="3.40" stroke="#333" stroke-width="0.6" fill="#fff" />
<rect x="258.0" y="292.3" width="2.00" height="4.40" stroke="#333" stroke-width="0.6" fill="#fff" />
<rect x="253.70000000000002" y="289" width="2.20" height="11.20" stroke="#111" stroke-width="0.4" fill="#111" rx="1"/>
<line x1="254.8" y1="287" x2="254.8" y2="301.2" stroke="#111" stroke-width="0.9" />
<rect x="288.3" y="224.3" width="2.00" height="4.40" stroke="#333" stroke-width="0.6" fill="#fff" />
<rect x="290.3" y="224.8" width="2.00" height="3.40" stroke="#333" stroke-width="0.6" fill="#fff" />
<rect x="294.7" y="224.8" width="2.00" height="3.40" stroke="#333" stroke-width="0.6" fill="#fff" />
<rect x="296.7" y="224.3" width="2.00" height="4.40" stroke="#333" stroke-width="0.6" fill="#fff" />
<rect x="292.4" y="221.4" width="2.20" height="10.80" stroke="#111" stroke-width="0.4" fill="#111" rx="1"/>
<line x1="293.5" y1="219.4" x2="293.5" y2="233.2" stroke="#111" stroke-width="0.9" />
<rect x="288.3" y="292.3" width="2.00" height="4.40" stroke="#333" stroke-width="0.6" fill="#fff" />
<rect x="290.3" y="292.8" width="2.00" height="3.40" stroke="#333" stroke-width="0.6" fill="#fff" />
<rect x="294.7" y="292.8" width="2.00" height="3.40" stroke="#333" stroke-width="0.6" fill="#fff" />
<rect x="296.7" y="292.3" width="2.00" height="4.40" stroke="#333" stroke-width="0.6" fill="#fff" />
<rect x="292.4" y="289" width="2.20" height="11.20" stroke="#111" stroke-width="0.4" fill="#111" rx="1"/>
<line x1="293.5" y1="287" x2="293.5" y2="301.2" stroke="#111" stroke-width="0.9" />
<line x1="308.7" y1="230" x2="308.7" y2="291" stroke="#333" stroke-width="0.6" />
<rect x="308.8" y="235" width="5.00" height="4.50" stroke="#222" stroke-width="0.9" fill="#fff" />
<rect x="303.8" y="235.7" width="2.50" height="2.70" stroke="#222" stroke-width="0.5" fill="#555" />
<rect x="308.8" y="250" width="5.00" height="4.50" stroke="#222" stroke-width="0.9" fill="#fff" />
<rect x="303.8" y="250.7" width="2.50" height="2.70" stroke="#222" stroke-width="0.5" fill="#555" />
<rect x="308.8" y="265.5" width="5.00" height="4.50" stroke="#222" stroke-width="0.9" fill="#fff" />
<rect x="303.8" y="266.2" width="2.50" height="2.70" stroke="#222" stroke-width="0.5" fill="#555" />
<rect x="308.8" y="281" width="5.00" height="4.50" stroke="#222" stroke-width="0.9" fill="#fff" />
<rect x="303.8" y="281.7" width="2.50" height="2.70" stroke="#222" stroke-width="0.5" fill="#555" />
<line x1="313.8" y1="233.5" x2="313.8" y2="287" stroke="#555" stroke-width="0.6" />
<rect x="313.6" y="233.6" width="55.80" height="48.40" stroke="#666" stroke-width="0.6" fill="none" />
<line x1="313.6" y1="238.2" x2="369.4" y2="238.2" stroke="#444" stroke-width="0.7" />
<line x1="313.6" y1="281" x2="366" y2="281" stroke="#444" stroke-width="0.7" />
<rect x="326" y="238.8" width="24.60" height="41.80" stroke="#444" stroke-width="0.7" fill="none" />
<rect x="326" y="245.6" width="24.60" height="28.80" stroke="#555" stroke-width="0.7" fill="none" stroke-dasharray="1.2 1"/>
<rect x="328.5" y="250" width="18.40" height="21.00" stroke="#222" stroke-width="1.0" fill="#fff" />
<rect x="313.8" y="256.3" width="9.20" height="7.50" stroke="#555" stroke-width="0.6" fill="#fff" />
<rect x="323" y="252" width="3.00" height="17.00" stroke="#555" stroke-width="0.5" fill="#bbb" />
<rect x="326" y="250" width="2.50" height="21.00" stroke="#444" stroke-width="0.5" fill="#999" />
<line x1="313.6" y1="242.5" x2="366.3" y2="242.5" stroke="#aaa" stroke-width="0.6" />
<line x1="313.6" y1="245" x2="366.3" y2="245" stroke="#aaa" stroke-width="0.6" />
<line x1="313.6" y1="277.5" x2="366.3" y2="277.5" stroke="#aaa" stroke-width="0.6" />
<line x1="313.6" y1="280" x2="366.3" y2="280" stroke="#aaa" stroke-width="0.6" />
<line x1="350.6" y1="258" x2="358" y2="258" stroke="#aaa" stroke-width="0.5" />
<path d="M372,238.8 L393.8,238.8 L393.8,282 L372,282 L368.7,278 L368.7,242.5 Z" stroke="#222" stroke-width="1.2" fill="#fff" />
<line x1="366.3" y1="238.8" x2="372" y2="238.8" stroke="#222" stroke-width="1.0" />
<line x1="366.3" y1="282" x2="372" y2="282" stroke="#222" stroke-width="1.0" />
<rect x="390.5" y="241.3" width="3.10" height="38.20" stroke="#222" stroke-width="0.4" fill="#666" />
<line x1="372.5" y1="253.9" x2="391" y2="253.9" stroke="#444" stroke-width="1.2" />
<line x1="372.5" y1="267" x2="391" y2="267" stroke="#444" stroke-width="1.2" />
<line x1="379.5" y1="206.3" x2="379.5" y2="347" stroke="#555" stroke-width="0.7" />
<line x1="357.7" y1="208" x2="357.7" y2="341.3" stroke="#222" stroke-width="1.0" />
<path d="M303,282.8 L272.4,282.8 L272.4,287.1 L344.3,287.1 L344.3,282.8 M338.5,282.8 L338.5,287.1 M314,282.8 L344.3,282.8" stroke="#555" stroke-width="0.6" fill="none" />
<rect x="393.8" y="240" width="108.20" height="40.00" stroke="#444" stroke-width="0.7" fill="#fff" />
<line x1="393.8" y1="244.5" x2="502" y2="244.5" stroke="#444" stroke-width="0.6" />
<line x1="393.8" y1="276.3" x2="502" y2="276.3" stroke="#444" stroke-width="0.6" />
<line x1="395" y1="242.2" x2="501" y2="242.2" stroke="#555" stroke-width="0.9" stroke-dasharray="0.8 1.6"/>
<line x1="395" y1="278.2" x2="501" y2="278.2" stroke="#555" stroke-width="0.9" stroke-dasharray="0.8 1.6"/>
<rect x="401.3" y="238.2" width="5.00" height="1.80" stroke="#333" stroke-width="0.6" fill="#aaa" />
<rect x="401.3" y="280" width="5.00" height="1.80" stroke="#333" stroke-width="0.6" fill="#aaa" />
<rect x="448.8" y="238.2" width="5.00" height="1.80" stroke="#333" stroke-width="0.6" fill="#aaa" />
<rect x="448.8" y="280" width="5.00" height="1.80" stroke="#333" stroke-width="0.6" fill="#aaa" />
<rect x="496.3" y="238.2" width="5.00" height="1.80" stroke="#333" stroke-width="0.6" fill="#aaa" />
<rect x="496.3" y="280" width="5.00" height="1.80" stroke="#333" stroke-width="0.6" fill="#aaa" />
<rect x="395" y="256.3" width="103.30" height="8.20" stroke="#444" stroke-width="0.7" fill="none" />
<line x1="429.5" y1="256.3" x2="429.5" y2="264.5" stroke="#444" stroke-width="0.7" />
<line x1="463.8" y1="256.3" x2="463.8" y2="264.5" stroke="#444" stroke-width="0.7" />
<rect x="498.3" y="258" width="3.30" height="5.00" stroke="#555" stroke-width="0.5" fill="none" />
<rect x="131.9" y="241.3" width="3.10" height="32.50" stroke="#333" stroke-width="0.7" fill="#fff" />
<line x1="133.4" y1="243" x2="133.4" y2="272" stroke="#666" stroke-width="0.8" stroke-dasharray="0.8 3"/>
<rect x="131.9" y="241.3" width="40.60" height="2.50" stroke="#333" stroke-width="0.7" fill="#fff" />
<line x1="135" y1="245.6" x2="172" y2="245.6" stroke="#555" stroke-width="0.6" />
<rect x="134" y="238.5" width="4.50" height="2.80" stroke="#333" stroke-width="0.6" fill="#ccc" />
<line x1="144.8" y1="245.6" x2="144.8" y2="273.8" stroke="#222" stroke-width="1.3" />
<line x1="150.6" y1="246.5" x2="150.6" y2="273.8" stroke="#888" stroke-width="0.7" />
<line x1="150.6" y1="246.5" x2="176" y2="246.5" stroke="#888" stroke-width="0.6" />
<path d="M176.8,252.5 L176.8,268.5 A13.1,13.1 0 0 1 158,271.2 L152.5,264.5 L152.5,255.5 L158,248.8 A13.1,13.1 0 0 1 176.8,252.5 Z" stroke="#333" stroke-width="0.7" fill="#fff" />
<circle cx="165" cy="260" r="10.3" stroke="#222" stroke-width="1.1" fill="none" stroke-dasharray="1.0 3.04"/>
<circle cx="165" cy="260" r="6.5" stroke="#555" stroke-width="0.8" fill="none" stroke-dasharray="0.8 4.3"/>
<circle cx="165" cy="260" r="2.2" stroke="#333" stroke-width="0.7" fill="#bbb" />
<circle cx="165" cy="260" r="0.9" stroke="#222" stroke-width="0.4" fill="#333" />
<rect x="159" y="255.6" width="1.60" height="8.20" stroke="#666" stroke-width="0.5" fill="none" />
<rect x="170.5" y="250.8" width="6.00" height="4.40" stroke="#222" stroke-width="0.8" fill="#fff" />
<rect x="171.5" y="250.2" width="2.50" height="5.60" stroke="#222" stroke-width="0.5" fill="#777" />
<rect x="170.5" y="265.1" width="6.00" height="4.40" stroke="#222" stroke-width="0.8" fill="#fff" />
<rect x="171.5" y="264.5" width="2.50" height="5.60" stroke="#222" stroke-width="0.5" fill="#777" />
<path d="M152.3,268.5 L155.8,272.5 L153.8,273.6 L151.2,270.5 Z" stroke="#222" stroke-width="0.6" fill="#555" />
<path d="M165,242 L165,238 L171.9,238 L171.9,234.5 L177,234.5" stroke="#222" stroke-width="1.0" fill="none" />
<path d="M165,278.5 L165,283 L171.9,283 L171.9,286.5 L177,286.5" stroke="#222" stroke-width="1.0" fill="none" />
<rect x="167" y="238" width="5.50" height="3.30" stroke="#222" stroke-width="0.7" fill="#fff" />
<rect x="172.5" y="236.5" width="4.00" height="4.80" stroke="#222" stroke-width="0.7" fill="#fff" />
<rect x="167" y="279.5" width="5.50" height="3.50" stroke="#222" stroke-width="0.7" fill="#fff" />
<rect x="172.5" y="279.5" width="4.00" height="5.00" stroke="#222" stroke-width="0.7" fill="#fff" />
<line x1="172.5" y1="240" x2="177" y2="240" stroke="#111" stroke-width="1.2" />
<line x1="172.5" y1="281" x2="177" y2="281" stroke="#111" stroke-width="1.2" />
<path d="M549,230.3 L597.5,230.3 L597.5,273.5 L592.3,273.5 L592.3,235.6 L549,235.6 Z" stroke="#222" stroke-width="0.9" fill="#fff" />
<path d="M549.8,231.2 L596.6,231.2 L596.6,273.5 M593.2,273.5 L593.2,234.7 L549.8,234.7" stroke="#666" stroke-width="0.5" fill="none" />
<line x1="551" y1="233" x2="590" y2="233" stroke="#555" stroke-width="0.9" stroke-dasharray="0.8 3.2"/>
<line x1="594.9" y1="237" x2="594.9" y2="272" stroke="#555" stroke-width="0.9" stroke-dasharray="0.8 3.2"/>
<path d="M588.5,230.3 L592.3,235.6 M592.3,230.3 L597.5,235.6" stroke="#444" stroke-width="0.6" fill="none" />
<rect x="529" y="237" width="49.80" height="46.00" stroke="#222" stroke-width="0.9" fill="#fff" />
<line x1="578.8" y1="237" x2="578.8" y2="274" stroke="#222" stroke-width="1.3" />
<line x1="578.8" y1="237" x2="592.3" y2="237" stroke="#666" stroke-width="0.6" />
<circle cx="553.7" cy="260.4" r="20.8" stroke="#333" stroke-width="0.8" fill="#fff" />
<circle cx="553.7" cy="260.4" r="18.3" stroke="#222" stroke-width="1.2" fill="none" stroke-dasharray="1.0 2.19"/>
<circle cx="553.7" cy="260.4" r="12" stroke="#666" stroke-width="0.8" fill="none" stroke-dasharray="0.8 8.6"/>
<circle cx="553.7" cy="260.4" r="2.6" stroke="#333" stroke-width="0.7" fill="#aaa" />
<circle cx="553.7" cy="260.4" r="1.1" stroke="#222" stroke-width="0.4" fill="#333" />
<circle cx="569.7" cy="257.8" r="1.5" stroke="#222" stroke-width="0.7" fill="none" />
<rect x="531.3" y="254.4" width="2.20" height="11.20" stroke="#555" stroke-width="0.6" fill="#ddd" />
<circle cx="534.8" cy="272" r="3" stroke="#444" stroke-width="0.7" fill="none" />
<rect x="550" y="235.6" width="7.50" height="2.40" stroke="#222" stroke-width="0.5" fill="#777" />
<rect x="550" y="282" width="7.50" height="2.20" stroke="#222" stroke-width="0.5" fill="#777" />
<rect x="549.3" y="284" width="16.20" height="4.80" stroke="#333" stroke-width="0.6" fill="#fff" />
<rect x="551.2" y="285.5" width="1.60" height="1.80" stroke="#222" stroke-width="0.4" fill="#555" />
<rect x="554.7" y="285.5" width="1.60" height="1.80" stroke="#222" stroke-width="0.4" fill="#555" />
<rect x="558.2" y="285.5" width="1.60" height="1.80" stroke="#222" stroke-width="0.4" fill="#555" />
<rect x="561.7" y="285.5" width="1.60" height="1.80" stroke="#222" stroke-width="0.4" fill="#555" />
<rect x="99.6" y="273.6" width="52.70" height="7.40" stroke="#444" stroke-width="0.7" fill="#fff" />
<rect x="99.6" y="273.6" width="76.50" height="3.80" stroke="#333" stroke-width="0.8" fill="#fff" />
<rect x="100.6" y="279.2" width="15.20" height="6.20" stroke="#555" stroke-width="0.5" fill="#a4a4a4" />
<line x1="99.69999999999999" y1="285.4" x2="99.69999999999999" y2="317.2" stroke="#777" stroke-width="0.6" />
<line x1="99.69999999999999" y1="298.5" x2="118.1" y2="298.5" stroke="#aaa" stroke-width="0.5" />
<rect x="136.29999999999998" y="282" width="16.00" height="19.60" stroke="#333" stroke-width="0.8" fill="#fff" />
<rect x="136.29999999999998" y="282.2" width="16.00" height="2.00" stroke="#222" stroke-width="0.4" fill="#333" />
<rect x="136.29999999999998" y="299.5" width="16.00" height="2.00" stroke="#222" stroke-width="0.4" fill="#333" />
<rect x="136.29999999999998" y="286.5" width="16.00" height="10.50" stroke="#bbb" stroke-width="0.5" fill="none" />
<rect x="117.19999999999999" y="280" width="1.90" height="36.50" stroke="#111" stroke-width="0.3" fill="#1a1a1a" />
<line x1="120.5" y1="281" x2="120.5" y2="309" stroke="#333" stroke-width="0.7" />
<rect x="120.69999999999999" y="309" width="2.20" height="7.50" stroke="#222" stroke-width="0.6" fill="#fff" />
<rect x="120.69999999999999" y="281" width="15.60" height="21.80" stroke="#111" stroke-width="0.9" fill="#fff" />
<rect x="126.49999999999999" y="281.6" width="6.40" height="6.40" stroke="#000" stroke-width="0.5" fill="#1a1a1a" />
<rect x="124.69999999999999" y="281.2" width="10.00" height="1.80" stroke="#111" stroke-width="0.4" fill="#333" />
<rect x="123.49999999999999" y="288" width="12.80" height="12.80" stroke="#222" stroke-width="0.8" fill="none" />
<rect x="127.29999999999998" y="288" width="4.80" height="11.50" stroke="#222" stroke-width="0.7" fill="#888" />
<line x1="128.89999999999998" y1="288" x2="128.89999999999998" y2="299.5" stroke="#111" stroke-width="0.6" />
<line x1="130.5" y1="288" x2="130.5" y2="299.5" stroke="#111" stroke-width="0.6" />
<path d="M123.49999999999999,288 L126.49999999999999,284 M136.29999999999998,288 L132.89999999999998,284" stroke="#222" stroke-width="0.7" fill="none" />
<path d="M123.49999999999999,300.8 L125.69999999999999,303.5 M136.29999999999998,300.8 L133.7,303.5" stroke="#222" stroke-width="0.7" fill="none" />
<path d="M136.29999999999998,290 L141.7,297" stroke="#777" stroke-width="0.5" fill="none" />
<path d="M121.39999999999999,284 L123.89999999999999,290 L121.39999999999999,296 L123.39999999999999,302" stroke="#222" stroke-width="0.7" fill="none" />
<path d="M125.1,302.8 L134.29999999999998,302.8 L133.7,308 Q129.7,312 125.69999999999999,308 Z" stroke="#111" stroke-width="0.9" fill="#fff" />
<rect x="127.6" y="310.3" width="4.20" height="16.90" stroke="#111" stroke-width="0.9" fill="#fff" />
<line x1="129.0" y1="311.5" x2="129.0" y2="326.5" stroke="#888" stroke-width="0.5" />
<rect x="127.79999999999998" y="327.2" width="3.80" height="7.20" stroke="#111" stroke-width="0.6" fill="#666" />
<line x1="127.79999999999998" y1="328.5" x2="131.6" y2="328.5" stroke="#111" stroke-width="0.5" />
<line x1="127.79999999999998" y1="330.2" x2="131.6" y2="330.2" stroke="#111" stroke-width="0.5" />
<line x1="127.79999999999998" y1="331.9" x2="131.6" y2="331.9" stroke="#111" stroke-width="0.5" />
<line x1="127.79999999999998" y1="333.4" x2="131.6" y2="333.4" stroke="#111" stroke-width="0.5" />
<rect x="128.5" y="334.4" width="2.40" height="6.80" stroke="#111" stroke-width="0.6" fill="#777" />
<line x1="129.7" y1="341.2" x2="129.7" y2="348.2" stroke="#111" stroke-width="1.1" />
<rect x="565.5999999999999" y="273.6" width="52.70" height="7.40" stroke="#444" stroke-width="0.7" fill="#fff" />
<rect x="565.5999999999999" y="273.6" width="52.70" height="3.80" stroke="#333" stroke-width="0.8" fill="#fff" />
<rect x="602.5999999999999" y="282" width="14.20" height="5.20" stroke="#333" stroke-width="0.8" fill="#a4a4a4" />
<rect x="603.5999999999999" y="283.6" width="12.20" height="3.60" stroke="#555" stroke-width="0.4" fill="#eee" />
<line x1="618.1999999999999" y1="285.4" x2="618.1999999999999" y2="317.2" stroke="#777" stroke-width="0.6" />
<line x1="618.1999999999999" y1="298.5" x2="599.8" y2="298.5" stroke="#aaa" stroke-width="0.5" />
<rect x="565.5999999999999" y="282" width="16.00" height="19.60" stroke="#333" stroke-width="0.8" fill="#fff" />
<rect x="565.5999999999999" y="282.2" width="16.00" height="2.00" stroke="#222" stroke-width="0.4" fill="#333" />
<rect x="565.5999999999999" y="299.5" width="16.00" height="2.00" stroke="#222" stroke-width="0.4" fill="#333" />
<rect x="565.5999999999999" y="286.5" width="16.00" height="10.50" stroke="#bbb" stroke-width="0.5" fill="none" />
<rect x="598.8" y="280" width="1.90" height="36.50" stroke="#111" stroke-width="0.3" fill="#1a1a1a" />
<line x1="597.4" y1="281" x2="597.4" y2="309" stroke="#333" stroke-width="0.7" />
<rect x="595.0" y="309" width="2.20" height="7.50" stroke="#222" stroke-width="0.6" fill="#fff" />
<rect x="581.5999999999999" y="281" width="15.60" height="21.80" stroke="#111" stroke-width="0.9" fill="#fff" />
<rect x="584.9999999999999" y="281.6" width="6.40" height="6.40" stroke="#000" stroke-width="0.5" fill="#1a1a1a" />
<rect x="583.1999999999999" y="281.2" width="10.00" height="1.80" stroke="#111" stroke-width="0.4" fill="#333" />
<rect x="581.9999999999999" y="288" width="12.80" height="12.80" stroke="#222" stroke-width="0.8" fill="none" />
<rect x="585.8" y="288" width="4.80" height="11.50" stroke="#222" stroke-width="0.7" fill="#888" />
<line x1="587.4" y1="288" x2="587.4" y2="299.5" stroke="#111" stroke-width="0.6" />
<line x1="588.9999999999999" y1="288" x2="588.9999999999999" y2="299.5" stroke="#111" stroke-width="0.6" />
<path d="M581.9999999999999,288 L584.9999999999999,284 M594.8,288 L591.4,284" stroke="#222" stroke-width="0.7" fill="none" />
<path d="M581.9999999999999,300.8 L584.1999999999999,303.5 M594.8,300.8 L592.1999999999999,303.5" stroke="#222" stroke-width="0.7" fill="none" />
<path d="M581.5999999999999,290 L576.1999999999999,297" stroke="#777" stroke-width="0.5" fill="none" />
<path d="M596.4999999999999,284 L593.9999999999999,290 L596.4999999999999,296 L594.4999999999999,302" stroke="#222" stroke-width="0.7" fill="none" />
<path d="M583.5999999999999,302.8 L592.8,302.8 L592.1999999999999,308 Q588.1999999999999,312 584.1999999999999,308 Z" stroke="#111" stroke-width="0.9" fill="#fff" />
<rect x="586.0999999999999" y="310.3" width="4.20" height="16.90" stroke="#111" stroke-width="0.9" fill="#fff" />
<line x1="587.4999999999999" y1="311.5" x2="587.4999999999999" y2="326.5" stroke="#888" stroke-width="0.5" />
<rect x="586.3" y="327.2" width="3.80" height="7.20" stroke="#111" stroke-width="0.6" fill="#666" />
<line x1="586.3" y1="328.5" x2="590.0999999999999" y2="328.5" stroke="#111" stroke-width="0.5" />
<line x1="586.3" y1="330.2" x2="590.0999999999999" y2="330.2" stroke="#111" stroke-width="0.5" />
<line x1="586.3" y1="331.9" x2="590.0999999999999" y2="331.9" stroke="#111" stroke-width="0.5" />
<line x1="586.3" y1="333.4" x2="590.0999999999999" y2="333.4" stroke="#111" stroke-width="0.5" />
<rect x="586.9999999999999" y="334.4" width="2.40" height="6.80" stroke="#111" stroke-width="0.6" fill="#777" />
<line x1="588.1999999999999" y1="341.2" x2="588.1999999999999" y2="348.2" stroke="#111" stroke-width="1.1" />
<line x1="99.6" y1="317.3" x2="118.1" y2="317.3" stroke="#777" stroke-width="0.6" />
<line x1="599.8" y1="317" x2="618.4" y2="317" stroke="#777" stroke-width="0.6" />
<path d="M81,365.6 L104,365.6 M81,367 L104,367" stroke="#555" stroke-width="0.6" fill="none" />
<rect x="104" y="363.8" width="4.00" height="4.20" stroke="#333" stroke-width="0.7" fill="#ddd" />
<rect x="109.4" y="358" width="3.60" height="13.00" stroke="#444" stroke-width="0.6" fill="#fff" />
<path d="M112,359 Q112.5,355.7 116,355.7 L135,355.7" stroke="#c4c4c4" stroke-width="2.4" fill="none" stroke-linecap="round"/>
<path d="M111,359 Q111.3,354.5 116,354.5 L135,354.5 M113.2,359 Q113.6,356.9 116,356.9 L135,356.9" stroke="#444" stroke-width="0.4" fill="none" />
<rect x="115.0" y="360.6" width="3.40" height="3.20" stroke="#444" stroke-width="0.6" fill="none" />
<rect x="119.05" y="360.6" width="3.40" height="3.20" stroke="#444" stroke-width="0.6" fill="none" />
<rect x="123.1" y="360.6" width="3.40" height="3.20" stroke="#444" stroke-width="0.6" fill="none" />
<rect x="127.15" y="360.6" width="3.40" height="3.20" stroke="#444" stroke-width="0.6" fill="none" />
<rect x="131.2" y="360.6" width="3.40" height="3.20" stroke="#444" stroke-width="0.6" fill="none" />
<line x1="115" y1="360.6" x2="135" y2="360.6" stroke="#444" stroke-width="0.5" />
<line x1="115" y1="363.8" x2="135" y2="363.8" stroke="#444" stroke-width="0.5" />
<line x1="113" y1="365.9" x2="321.3" y2="365.9" stroke="#555" stroke-width="0.9" />
<line x1="113" y1="365.9" x2="321.3" y2="365.9" stroke="#222" stroke-width="1.1" stroke-dasharray="1.5 0.7"/>
<circle cx="118" cy="370.5" r="1.9" stroke="#222" stroke-width="0.8" fill="#ccc" />
<rect x="114.5" y="371" width="3.50" height="2.00" stroke="#333" stroke-width="0.5" fill="none" />
<line x1="120" y1="371.2" x2="167.5" y2="371.2" stroke="#777" stroke-width="0.7" />
<line x1="176" y1="371.2" x2="184" y2="371.2" stroke="#777" stroke-width="0.7" />
<line x1="193.8" y1="371.2" x2="237.5" y2="371.2" stroke="#777" stroke-width="0.7" />
<line x1="245.5" y1="371.2" x2="254.5" y2="371.2" stroke="#777" stroke-width="0.7" />
<line x1="263.8" y1="371.2" x2="320.3" y2="371.2" stroke="#777" stroke-width="0.7" />
<text x="183" y="376.6" font-size="5.2" fill="#555" textLength="28" lengthAdjust="spacingAndGlyphs">Lichtvorhang</text>
<rect x="326.5" y="365.4" width="70.50" height="2.10" stroke="#666" stroke-width="0.5" fill="#aaa" />
<rect x="321.3" y="363" width="5.20" height="10.00" stroke="#333" stroke-width="0.7" fill="#fff" />
<rect x="322.5" y="364.2" width="2.80" height="2.60" stroke="#444" stroke-width="0.5" fill="none" />
<circle cx="321.9" cy="370.6" r="1.8" stroke="#222" stroke-width="0.8" fill="#ccc" />
<rect x="314.4" y="373.8" width="8.60" height="1.80" stroke="#222" stroke-width="0.4" fill="#444" />
<text x="303" y="380.2" font-size="5.4" fill="#555" textLength="29" lengthAdjust="spacingAndGlyphs">Startvorwahl</text>
<rect x="397" y="363" width="5.50" height="9.50" stroke="#333" stroke-width="0.7" fill="#fff" />
<rect x="398.3" y="364.2" width="2.90" height="2.60" stroke="#444" stroke-width="0.5" fill="none" />
<circle cx="401.2" cy="370.7" r="1.8" stroke="#222" stroke-width="0.8" fill="#ccc" />
<rect x="401" y="373.8" width="8.00" height="1.80" stroke="#222" stroke-width="0.4" fill="#444" />
<text x="390" y="380.2" font-size="5.4" fill="#555" textLength="28.5" lengthAdjust="spacingAndGlyphs">Startvorwahl</text>
<line x1="403" y1="371.2" x2="527" y2="371.2" stroke="#777" stroke-width="0.7" />
<line x1="535" y1="371.2" x2="544.7" y2="371.2" stroke="#777" stroke-width="0.7" />
<line x1="551.8" y1="371.2" x2="573.6" y2="371.2" stroke="#777" stroke-width="0.7" />
<text x="498" y="376.8" font-size="5.2" fill="#555" textLength="27.5" lengthAdjust="spacingAndGlyphs">Lichtvorhang</text>
<rect x="338.0" y="367.5" width="9.80" height="5.50" stroke="#333" stroke-width="0.7" fill="#fff" />
<rect x="341.0" y="370.6" width="3.60" height="2.40" stroke="#333" stroke-width="0.6" fill="none" />
<rect x="332.5" y="373" width="21.30" height="7.60" stroke="#222" stroke-width="0.8" fill="#fff" />
<rect x="335.6" y="380.6" width="16.30" height="7.90" stroke="#111" stroke-width="0.5" fill="#111" />
<line x1="337.0" y1="382.2" x2="346.5" y2="382.2" stroke="#ddd" stroke-width="0.7" stroke-dasharray="1.5 0.5"/>
<line x1="344.5" y1="385" x2="347.5" y2="385" stroke="#999" stroke-width="0.5" />
<rect x="372.5" y="367.5" width="9.80" height="5.50" stroke="#333" stroke-width="0.7" fill="#fff" />
<rect x="375.5" y="370.6" width="3.60" height="2.40" stroke="#333" stroke-width="0.6" fill="none" />
<rect x="367.0" y="373" width="21.30" height="7.60" stroke="#222" stroke-width="0.8" fill="#fff" />
<rect x="370.1" y="380.6" width="16.30" height="7.90" stroke="#111" stroke-width="0.5" fill="#111" />
<line x1="371.5" y1="382.2" x2="381.0" y2="382.2" stroke="#ddd" stroke-width="0.7" stroke-dasharray="1.5 0.5"/>
<line x1="379.0" y1="385" x2="382.0" y2="385" stroke="#999" stroke-width="0.5" />
<text x="350" y="395" font-size="5.4" fill="#555" textLength="22.5" lengthAdjust="spacingAndGlyphs">Bedienpult</text>
<rect x="356.3" y="363" width="5.70" height="5.50" stroke="#333" stroke-width="0.7" fill="#fff" />
<rect x="357.7" y="364.3" width="2.90" height="2.70" stroke="#444" stroke-width="0.5" fill="none" />
<path d="M358,354 L358,363 M361.3,354 L361.3,363" stroke="#444" stroke-width="0.6" fill="none" />
<rect x="358" y="350.6" width="3.50" height="3.40" stroke="#333" stroke-width="0.6" fill="#fff" />
<rect x="351.9" y="341.3" width="5.10" height="7.00" stroke="#333" stroke-width="0.8" fill="#fff" />
<path d="M357,341.3 L365,341.3 L365,345.5 L362.5,349 L357,349 Z" stroke="#222" stroke-width="0.9" fill="#fff" />
<line x1="357" y1="345" x2="365" y2="345" stroke="#333" stroke-width="0.6" />
<rect x="360" y="322.5" width="3.80" height="18.50" stroke="#444" stroke-width="0.6" fill="#fff" />
<line x1="360" y1="325" x2="363.8" y2="325" stroke="#444" stroke-width="0.5" />
<line x1="360" y1="327.5" x2="363.8" y2="327.5" stroke="#444" stroke-width="0.5" />
<line x1="360" y1="330" x2="363.8" y2="330" stroke="#444" stroke-width="0.5" />
<line x1="360" y1="332.5" x2="363.8" y2="332.5" stroke="#444" stroke-width="0.5" />
<line x1="360" y1="335" x2="363.8" y2="335" stroke="#444" stroke-width="0.5" />
<line x1="360" y1="337.5" x2="363.8" y2="337.5" stroke="#444" stroke-width="0.5" />
<path d="M368,322.5 L368,342 Q368,345.5 364.5,345.5" stroke="#444" stroke-width="0.8" fill="none" stroke-dasharray="1 0.8"/>
<path d="M479.6,371.2 L479.6,350.4 L654.4,350.4" stroke="#777" stroke-width="0.7" fill="none" />
<line x1="478.5" y1="359.7" x2="478.5" y2="361.7" stroke="#222" stroke-width="0.8" />
<rect x="573.6" y="368.3" width="39.20" height="18.90" stroke="#777" stroke-width="0.7" fill="#fff" />
<rect x="573.6" y="365.4" width="35.10" height="2.90" stroke="#111" stroke-width="0.4" fill="#111" />
<line x1="574" y1="368.6" x2="608.7" y2="368.6" stroke="#fff" stroke-width="0.6" stroke-dasharray="0.8 0.8"/>
<rect x="588.8" y="360.4" width="3.40" height="3.20" stroke="#444" stroke-width="0.6" fill="none" />
<rect x="592.8" y="360.4" width="3.40" height="3.20" stroke="#444" stroke-width="0.6" fill="none" />
<rect x="596.8" y="360.4" width="3.40" height="3.20" stroke="#444" stroke-width="0.6" fill="none" />
<rect x="600.8" y="360.4" width="3.40" height="3.20" stroke="#444" stroke-width="0.6" fill="none" />
<rect x="604.8" y="360.4" width="3.40" height="3.20" stroke="#444" stroke-width="0.6" fill="none" />
<line x1="588.8" y1="360.4" x2="608.4" y2="360.4" stroke="#444" stroke-width="0.5" />
<line x1="588.8" y1="363.6" x2="608.4" y2="363.6" stroke="#444" stroke-width="0.5" />
<path d="M588,355.6 L606,355.6 Q610.5,355.8 611,359.5" stroke="#c4c4c4" stroke-width="2.4" fill="none" stroke-linecap="round"/>
<path d="M588,354.4 L606,354.4 Q611.7,354.6 612.2,359.5 M588,356.8 L606,356.8 Q609.4,357 609.8,359.5" stroke="#444" stroke-width="0.4" fill="none" />
<rect x="609.4" y="358.4" width="5.20" height="12.60" stroke="#444" stroke-width="0.6" fill="#fff" />
<rect x="615.8" y="363.6" width="3.90" height="5.10" stroke="#333" stroke-width="0.7" fill="#ddd" />
<path d="M619.7,365 L637.4,365 M619.7,367.2 L637.4,367.2" stroke="#555" stroke-width="0.6" fill="none" />
<rect x="619.7" y="365.4" width="17.70" height="1.40" stroke="none" stroke-width="0" fill="#bbb" />
<circle cx="605" cy="371" r="1.9" stroke="#222" stroke-width="0.8" fill="#ccc" />
<rect x="605" y="371.5" width="4.00" height="2.00" stroke="#333" stroke-width="0.5" fill="none" />
<path d="M164.20,217.20 A43,43 0 0 0 128.14,236.78" stroke="#666" stroke-width="0.7" fill="none" />
<path d="M124.47,243.74 A43,43 0 0 0 121.57,254.59" stroke="#666" stroke-width="0.7" fill="none" />
<path d="M121.20,260.20 A43,43 0 0 0 140.78,296.26" stroke="#666" stroke-width="0.7" fill="none" />
<path d="M147.74,299.93 A43,43 0 0 0 158.59,302.83" stroke="#666" stroke-width="0.7" fill="none" />
<path d="M164.20,303.20 A43,43 0 0 0 200.26,283.62" stroke="#666" stroke-width="0.7" fill="none" />
<path d="M203.93,276.66 A43,43 0 0 0 206.83,265.81" stroke="#666" stroke-width="0.7" fill="none" />
<path d="M207.20,260.20 A43,43 0 0 0 187.62,224.14" stroke="#666" stroke-width="0.7" fill="none" />
<path d="M180.66,220.47 A43,43 0 0 0 169.81,217.57" stroke="#666" stroke-width="0.7" fill="none" />
<path d="M594.89,236.98 A47.9,47.9 0 0 0 581.15,221.45" stroke="#666" stroke-width="0.7" fill="none" />
<path d="M578.38,219.58 A47.9,47.9 0 0 0 569.77,215.33" stroke="#666" stroke-width="0.7" fill="none" />
<path d="M564.99,213.83 A47.9,47.9 0 0 0 513.29,233.41" stroke="#666" stroke-width="0.7" fill="none" />
<path d="M507.58,245.00 A47.9,47.9 0 0 0 505.28,256.03" stroke="#666" stroke-width="0.7" fill="none" />
<path d="M505.15,262.46 A47.9,47.9 0 0 0 527.12,300.51" stroke="#666" stroke-width="0.7" fill="none" />
<path d="M536.38,305.12 A47.9,47.9 0 0 0 543.04,307.05" stroke="#666" stroke-width="0.7" fill="none" />
<path d="M553.84,308.09 A47.9,47.9 0 0 0 579.79,299.91" stroke="#666" stroke-width="0.7" fill="none" />
<line x1="88.1" y1="217.5" x2="160" y2="217.5" stroke="#888" stroke-width="0.6" />
<line x1="556" y1="212.3" x2="628.6" y2="212.3" stroke="#888" stroke-width="0.6" />
<line x1="316" y1="240.3" x2="365" y2="240.3" stroke="#555" stroke-width="0.9" stroke-dasharray="0.8 2.6"/>
<line x1="316" y1="279.2" x2="365" y2="279.2" stroke="#555" stroke-width="0.9" stroke-dasharray="0.8 2.6"/>
<line x1="326" y1="238.5" x2="366.3" y2="238.5" stroke="#333" stroke-width="1.1" />
<line x1="326" y1="280.8" x2="366.3" y2="280.8" stroke="#333" stroke-width="1.1" />
</svg>
</body></html>
